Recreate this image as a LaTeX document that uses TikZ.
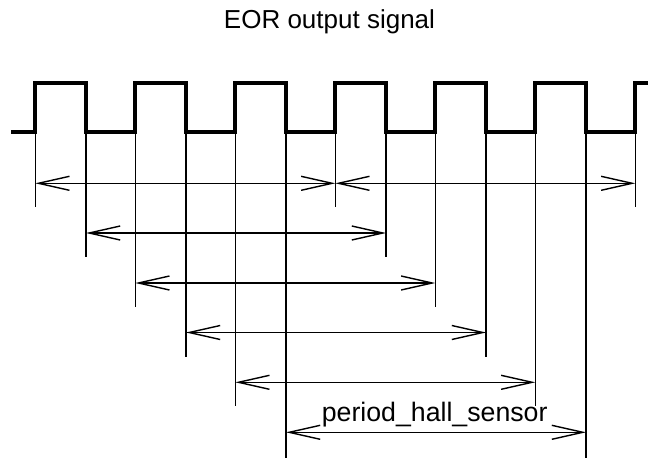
\documentclass[tikz,border=0pt]{standalone}
\usepackage{fontspec}
\setmainfont{Liberation Sans}
\usetikzlibrary{arrows.meta}
\begin{document}
\begin{tikzpicture}[x=1pt,y=-1pt,
  signal/.style={line width=4.3pt,line join=miter},
  tick/.style={line width=1.4pt},
  dim/.style={line width=1.4pt,
    arrows={Straight Barb[length=31pt,width=14pt]-Straight Barb[length=31pt,width=14pt]}},
  lbl/.style={inner sep=0pt,anchor=base,font=\fontsize{26}{30}\selectfont}]
\useasboundingbox (0,0) rectangle (648,458);
% title
\node[lbl] (title) at (329.5,28.3) {EOR output signal};
% signal
\draw[signal] (11,132.3) -- (35.3,132.3) -- (35.3,83)
  -- (86,83) -- (86,132.3) -- (135.3,132.3) -- (135.3,83)
  -- (186,83) -- (186,132.3) -- (235.3,132.3) -- (235.3,83)
  -- (286,83) -- (286,132.3) -- (335.3,132.3) -- (335.3,83)
  -- (386,83) -- (386,132.3) -- (435.3,132.3) -- (435.3,83)
  -- (486,83) -- (486,132.3) -- (535.3,132.3) -- (535.3,83)
  -- (586,83) -- (586,132.3) -- (635.3,132.3) -- (635.3,83)
  -- (649,83);
% edge coordinates (top) and tick ends (bottom)
\foreach \n/\x/\b in {r0/35.3/207.3, f0/86/257, r1/135.3/307, f1/186/356.5, r2/235.3/406.3, f2/286/458,
                       r3/335.3/207.3, f3/386/257, r4/435.3/307, f4/486/356.5, r5/535.3/406.3, f5/586/458, r6/635.3/207.3}{
  \coordinate (\n t) at (\x,132.3);
  \coordinate (\n b) at (\x,\b);
  \draw[tick] (\n t) -- (\n b);
}
% dimension arrow end points
\coordinate (a1l) at (35.3,183.3);  \coordinate (a1m) at (335.3,183.3); \coordinate (a1r) at (635.3,183.3);
\coordinate (a2l) at (86,233);      \coordinate (a2r) at (386,233);
\coordinate (a3l) at (135.3,283);   \coordinate (a3r) at (435.3,283);
\coordinate (a4l) at (186,332.5);   \coordinate (a4r) at (486,332.5);
\coordinate (a5l) at (235.3,382.3); \coordinate (a5r) at (535.3,382.3);
\coordinate (a6l) at (286,432.3);   \coordinate (a6r) at (586,432.3);
\draw[dim] (a1l) -- (a1m);
\draw[dim] (a1m) -- (a1r);
\draw[dim] (a2l) -- (a2r);
\draw[dim] (a3l) -- (a3r);
\draw[dim] (a4l) -- (a4r);
\draw[dim] (a5l) -- (a5r);
\draw[dim] (a6l) -- (a6r);
\node[lbl,font=\fontsize{26.7}{30}\selectfont] (period) at (434.7,421.5) {period\_hall\_sensor};
\end{tikzpicture}
\end{document}
